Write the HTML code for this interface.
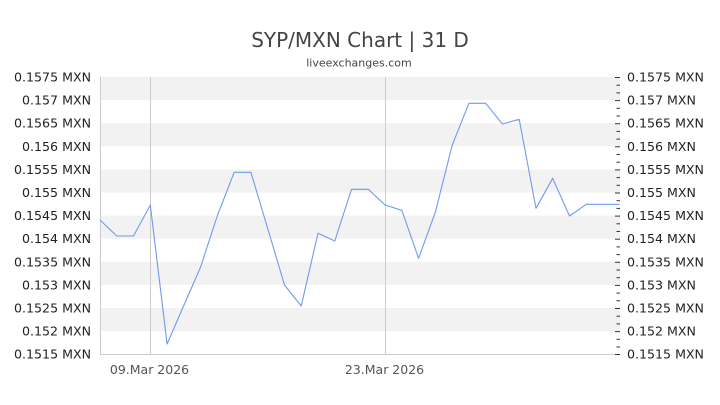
<!DOCTYPE html>
<html><head><meta charset="utf-8"><style>
html,body{margin:0;padding:0;background:#fff;}
svg{display:block;font-family:"DejaVu Sans","Liberation Sans",sans-serif;}
</style></head><body>
<svg width="720" height="405" viewBox="0 0 720 405" xmlns="http://www.w3.org/2000/svg">
<rect width="720" height="405" fill="#fff"/>
<text x="360" y="47" text-anchor="middle" font-size="20" fill="#444">SYP/MXN Chart | 31 D</text>
<text x="359" y="66.5" text-anchor="middle" font-size="11" fill="#444">liveexchanges.com</text>
<g fill="#f2f2f2">
<rect x="100" y="77" width="520" height="23.1"/>
<rect x="100" y="123.2" width="520" height="23.1"/>
<rect x="100" y="169.4" width="520" height="23.1"/>
<rect x="100" y="215.6" width="520" height="23.1"/>
<rect x="100" y="261.8" width="520" height="23.1"/>
<rect x="100" y="308" width="520" height="23.1"/>
</g>
<g stroke="#ccc" stroke-width="1">
<line x1="100.5" y1="77" x2="100.5" y2="355"/>
<line x1="100" y1="354.5" x2="620" y2="354.5"/>
<line x1="150.5" y1="77" x2="150.5" y2="355"/>
<line x1="385.5" y1="77" x2="385.5" y2="355"/>
</g>
<polyline fill="none" stroke="#6f9bef" stroke-width="1.1" stroke-linejoin="round" points="100,220 116.8,236 133.5,236 150.3,205 167.1,344 183.8,305.5 200.6,267 217.4,215.5 234.2,172.3 250.9,172.3 267.7,228.5 284.5,285 301.2,306 318,233.3 334.8,241 351.5,189.3 368.3,189.3 385.1,205 401.8,210.3 418.6,258.3 435.4,212 452.1,145.5 468.9,103.3 485.7,103.3 502.4,124 519.2,119.3 536,208.3 552.7,178.3 569.5,216 586.3,204.3 603,204.3 619.5,204.3"/>
<g id="ticks" stroke="#333" stroke-width="1"></g>
<g font-size="12.6" fill="#222" text-anchor="end">
<text x="91" y="81.5">0.1575 MXN</text>
<text x="91" y="104.6">0.157 MXN</text>
<text x="91" y="127.7">0.1565 MXN</text>
<text x="91" y="150.8">0.156 MXN</text>
<text x="91" y="173.9">0.1555 MXN</text>
<text x="91" y="197">0.155 MXN</text>
<text x="91" y="220.1">0.1545 MXN</text>
<text x="91" y="243.2">0.154 MXN</text>
<text x="91" y="266.3">0.1535 MXN</text>
<text x="91" y="289.4">0.153 MXN</text>
<text x="91" y="312.5">0.1525 MXN</text>
<text x="91" y="335.6">0.152 MXN</text>
<text x="91" y="358.7">0.1515 MXN</text>
</g>
<g font-size="12.6" fill="#222" text-anchor="start">
<text x="627" y="81.5">0.1575 MXN</text>
<text x="627" y="104.6">0.157 MXN</text>
<text x="627" y="127.7">0.1565 MXN</text>
<text x="627" y="150.8">0.156 MXN</text>
<text x="627" y="173.9">0.1555 MXN</text>
<text x="627" y="197">0.155 MXN</text>
<text x="627" y="220.1">0.1545 MXN</text>
<text x="627" y="243.2">0.154 MXN</text>
<text x="627" y="266.3">0.1535 MXN</text>
<text x="627" y="289.4">0.153 MXN</text>
<text x="627" y="312.5">0.1525 MXN</text>
<text x="627" y="335.6">0.152 MXN</text>
<text x="627" y="358.7">0.1515 MXN</text>
</g>
<g font-size="12.5" fill="#555" text-anchor="middle">
<text x="149.5" y="374">09.Mar 2026</text>
<text x="384.5" y="374">23.Mar 2026</text>
</g>
<g stroke="#333" stroke-width="1">
<line x1="615" y1="77.5" x2="620" y2="77.5"/><line x1="616.5" y1="85.2" x2="620" y2="85.2"/><line x1="616.5" y1="92.9" x2="620" y2="92.9"/>
<line x1="615" y1="100.6" x2="620" y2="100.6"/><line x1="616.5" y1="108.3" x2="620" y2="108.3"/><line x1="616.5" y1="116" x2="620" y2="116"/>
<line x1="615" y1="123.7" x2="620" y2="123.7"/><line x1="616.5" y1="131.4" x2="620" y2="131.4"/><line x1="616.5" y1="139.1" x2="620" y2="139.1"/>
<line x1="615" y1="146.8" x2="620" y2="146.8"/><line x1="616.5" y1="154.5" x2="620" y2="154.5"/><line x1="616.5" y1="162.2" x2="620" y2="162.2"/>
<line x1="615" y1="169.9" x2="620" y2="169.9"/><line x1="616.5" y1="177.6" x2="620" y2="177.6"/><line x1="616.5" y1="185.3" x2="620" y2="185.3"/>
<line x1="615" y1="193" x2="620" y2="193"/><line x1="616.5" y1="200.7" x2="620" y2="200.7"/><line x1="616.5" y1="208.4" x2="620" y2="208.4"/>
<line x1="615" y1="216.1" x2="620" y2="216.1"/><line x1="616.5" y1="223.8" x2="620" y2="223.8"/><line x1="616.5" y1="231.5" x2="620" y2="231.5"/>
<line x1="615" y1="239.2" x2="620" y2="239.2"/><line x1="616.5" y1="246.9" x2="620" y2="246.9"/><line x1="616.5" y1="254.6" x2="620" y2="254.6"/>
<line x1="615" y1="262.3" x2="620" y2="262.3"/><line x1="616.5" y1="270" x2="620" y2="270"/><line x1="616.5" y1="277.7" x2="620" y2="277.7"/>
<line x1="615" y1="285.4" x2="620" y2="285.4"/><line x1="616.5" y1="293.1" x2="620" y2="293.1"/><line x1="616.5" y1="300.8" x2="620" y2="300.8"/>
<line x1="615" y1="308.5" x2="620" y2="308.5"/><line x1="616.5" y1="316.2" x2="620" y2="316.2"/><line x1="616.5" y1="323.9" x2="620" y2="323.9"/>
<line x1="615" y1="331.6" x2="620" y2="331.6"/><line x1="616.5" y1="339.3" x2="620" y2="339.3"/><line x1="616.5" y1="347" x2="620" y2="347"/>
<line x1="615" y1="354.5" x2="620" y2="354.5"/>
</g>
</svg>
</body></html>
